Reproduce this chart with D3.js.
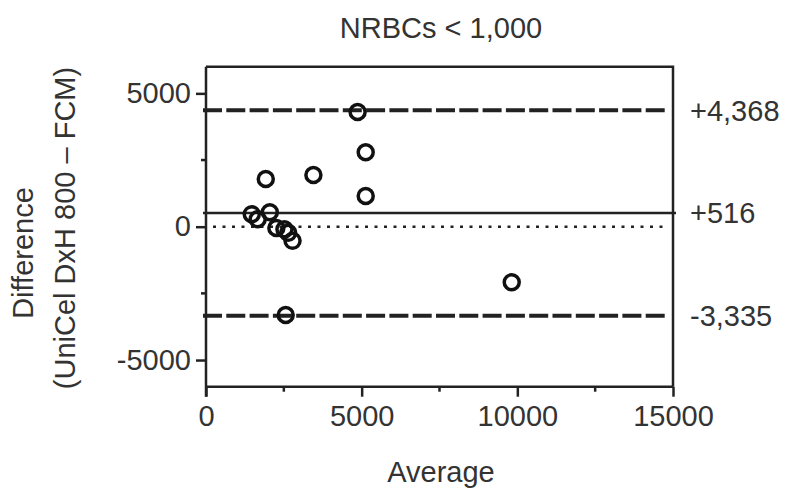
<!DOCTYPE html>
<html>
<head>
<meta charset="utf-8">
<script src="https://cdn.jsdelivr.net/npm/d3@7"></script>
<style>
  body { margin: 0; background: #fff; }
  text { font-family: "Liberation Sans", Arial, sans-serif; fill: #333; }
</style>
</head>
<body>
<div id="graph"></div>
<script>
// Bland-Altman data
let averages    = [4870, 5130, 5130, 1920, 3450, 9820, 2560, 1470, 1660, 2050, 2260, 2520, 2640, 2780];
let differences = [4300, 2790, 1150, 1790, 1940, -2085, -3310, 470, 280, 540, -50, -100, -230, -530];
let meanDiff = 516, upperLoA = 4368, lowerLoA = -3335;
let refLabels = ["+4,368", "+516", "-3,335"];
let xTicks = [0, 5000, 10000, 15000], xMinor = [2500, 7500, 12500];
let yTicks = [-5000, 0, 5000], yMinor = [-2500, 2500];

let width = 788, height = 490;
let svg = d3.select("#graph").append("svg")
    .attr("width", width)
    .attr("height", height);

let x = d3.scaleLinear().domain([0, 15000]).range([206, 673]);
let y = d3.scaleLinear().domain([-6000, 6000]).range([386.7, 66.7]);
let ink = "#222";
let fmt = d => String(d); // plain hyphen minus like the original

// frame: top and right
svg.append("path")
    .attr("d", "M" + x(0) + "," + y(6000) + "H" + x(15000) + "V" + y(-6000))
    .attr("fill", "none").attr("stroke", ink).attr("stroke-width", 2.5);

// reference lines
function hline(v, dash, w, x0, x1) {
  svg.append("line")
    .attr("x1", x0).attr("x2", x1)
    .attr("y1", y(v)).attr("y2", y(v))
    .attr("stroke", ink).attr("stroke-width", w)
    .attr("stroke-dasharray", dash);
}
hline(0, "3,6.5", 2.6, x(0) + 7, x(15000) - 4);
hline(meanDiff, null, 2.5, x(0) - 3, x(15000) + 3);
hline(upperLoA, "19,4.3", 4, x(0) - 3, x(15000) - 4);
hline(lowerLoA, "19,4.3", 4, x(0) - 3, x(15000) - 4);

// axes
let xAxis = svg.append("g")
    .attr("transform", "translate(0," + y(-6000) + ")")
    .call(d3.axisBottom(x).tickValues(xTicks).tickSize(10).tickPadding(9).tickFormat(fmt));
xAxis.append("g").selectAll("line").data(xMinor).join("line")
    .attr("x1", d => x(d)).attr("x2", d => x(d)).attr("y1", 0).attr("y2", 5);

let yAxis = svg.append("g")
    .attr("transform", "translate(" + x(0) + ",0)")
    .call(d3.axisLeft(y).tickValues(yTicks).tickSize(10).tickPadding(5).tickFormat(fmt));
yAxis.append("g").selectAll("line").data(yMinor).join("line")
    .attr("x1", 0).attr("x2", -5).attr("y1", d => y(d)).attr("y2", d => y(d));

[xAxis, yAxis].forEach(g => {
  g.select(".domain").remove();
  g.selectAll("line").attr("stroke", ink).attr("stroke-width", 2.5);
  g.selectAll("text").attr("font-size", 29).attr("fill", "#333")
    .attr("font-family", "Liberation Sans, Arial, sans-serif");
});
// axis lines, extended below the corner
svg.append("line").attr("x1", x(0)).attr("x2", x(0)).attr("y1", y(6000)).attr("y2", y(-6000) + 10)
    .attr("stroke", ink).attr("stroke-width", 2.5);
svg.append("line").attr("x1", x(0)).attr("x2", x(15000)).attr("y1", y(-6000)).attr("y2", y(-6000))
    .attr("stroke", ink).attr("stroke-width", 2.5);

// points
svg.append("g").selectAll("circle")
    .data(averages.map((a, i) => [a, differences[i]]))
    .join("circle")
    .attr("cx", d => x(d[0]))
    .attr("cy", d => y(d[1]))
    .attr("r", 7.5)
    .attr("fill", "none")
    .attr("stroke", "#111")
    .attr("stroke-width", 3.5);

// right-hand labels
svg.append("g").selectAll("text")
    .data([upperLoA, meanDiff, lowerLoA])
    .join("text")
    .attr("x", 690)
    .attr("y", d => y(d))
    .attr("dy", "0.36em")
    .attr("font-size", 29)
    .text((d, i) => refLabels[i]);

// titles
svg.append("text").attr("x", 441).attr("y", 38).attr("text-anchor", "middle")
    .attr("font-size", 29).text("NRBCs < 1,000");
svg.append("text").attr("x", 441).attr("y", 482).attr("text-anchor", "middle")
    .attr("font-size", 29).text("Average");
svg.append("text").attr("transform", "translate(33,253) rotate(-90)")
    .attr("text-anchor", "middle").attr("font-size", 29).text("Difference");
svg.append("text").attr("transform", "translate(75,228) rotate(-90)")
    .attr("text-anchor", "middle").attr("font-size", 29).text("(UniCel DxH 800 \u2013 FCM)");
</script>
</body>
</html>
